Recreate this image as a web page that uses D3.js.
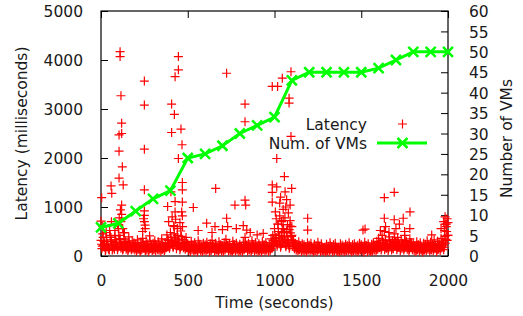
<!DOCTYPE html>
<html>
<head>
<meta charset="utf-8">
<script src="https://cdn.jsdelivr.net/npm/d3@7"></script>
<style>
  html, body { margin: 0; padding: 0; background: #fff; }
  svg { display: block; }
  text { font-family: "DejaVu Sans", sans-serif; fill: #1a1a1a; }
</style>
</head>
<body>
<div id="chart"></div>
<script>
// ---- tick labels ----
const timeTicks = [0, 500, 1000, 1500, 2000];
const latencyTicks = [0, 1000, 2000, 3000, 4000, 5000];
const vmTicks = [0, 5, 10, 15, 20, 25, 30, 35, 40, 45, 50, 55, 60];

// ---- number of VMs, sampled every 100 s ----
const vmTimes = [0, 100, 200, 300, 400, 500, 600, 700, 800, 900, 1000,
  1100, 1200, 1300, 1400, 1500, 1600, 1700, 1800, 1900, 2000];
const vmCounts = [7, 8, 11, 14, 16, 24, 25, 27, 30, 32, 34,
  43, 45, 45, 45, 45, 46, 48, 50, 50, 50];

// ---- latency baseline band (ms), readings every 10 s; A from t=0, B t=5, C t=2.5, D t=7.5 ----
const bandStep = 10;
const bandLatencyA = [
  320, 450, 260, 380, 210, 520, 300, 240, 410, 280,
  560, 350, 230, 470, 300, 260, 390, 220, 310, 270,
  240, 330, 190, 280, 360, 220, 300, 250, 410, 200,
  260, 310, 210, 290, 240, 350, 200, 270, 430, 320,
  480, 290, 600, 350, 420, 260, 510, 330, 280, 380,
  250, 200, 300, 220, 270, 180, 310, 240, 200, 260,
  230, 280, 190, 250, 320, 210, 260, 180, 290, 230,
  200, 270, 340, 220, 250, 180, 300, 230, 260, 200,
  240, 190, 280, 380, 220, 260, 200, 310, 230, 270,
  210, 250, 190, 290, 230, 270, 200, 240, 350, 420,
  560, 380, 650, 300, 470, 720, 340, 500, 280, 610,
  420, 310, 260, 220, 290, 200, 250, 230, 190, 270,
  220, 260, 120, 240, 210, 280, 200, 250, 110, 180,
  240, 200, 270, 190, 230, 260, 100, 180, 250, 220,
  200, 240, 210, 270, 120, 230, 250, 200, 220, 260,
  230, 190, 280, 210, 250, 110, 240, 270, 220, 300,
  360, 250, 420, 280, 330, 240, 390, 260, 310, 450,
  280, 380, 240, 330, 260, 420, 300, 230, 350, 270,
  250, 210, 290, 230, 270, 120, 260, 240, 310, 220,
  280, 240, 330, 210, 300, 250, 360, 290, 520, 650,
  420
];
const bandLatencyB = [
  150, 220, 110, 260, 140, 330, 120, 180, 240, 130,
  280, 160, 120, 200, 140, 110, 170, 130, 150, 120,
  100, 140, 90, 130, 160, 110, 120, 90, 150, 110,
  130, 100, 150, 120, 90, 140, 110, 170, 220, 160,
  260, 180, 300, 150, 240, 130, 200, 170, 140, 190,
  110, 90, 130, 100, 120, 80, 140, 100, 90, 120,
  100, 130, 80, 110, 150, 90, 120, 80, 130, 100,
  90, 120, 160, 100, 110, 80, 130, 100, 120, 90,
  110, 80, 130, 170, 100, 120, 90, 140, 100, 120,
  90, 110, 80, 130, 100, 120, 90, 110, 160, 200,
  300, 200, 350, 180, 260, 400, 190, 280, 160, 330,
  200, 150, 120, 100, 130, 90, 110, 100, 80, 120,
  100, 120, 80, 110, 90, 130, 90, 110, 100, 80,
  110, 90, 120, 80, 100, 120, 90, 80, 110, 100,
  90, 110, 100, 120, 80, 100, 110, 90, 100, 120,
  100, 80, 130, 90, 110, 90, 100, 120, 100, 140,
  170, 120, 210, 130, 160, 110, 190, 120, 150, 220,
  130, 180, 110, 160, 120, 200, 140, 100, 170, 130,
  110, 90, 130, 100, 120, 80, 120, 110, 140, 100,
  130, 110, 150, 90, 140, 110, 170, 130, 260, 320
];
const bandLatencyC = [
  240, 380, 180, 300, 160, 420, 220, 200, 330, 190,
  420, 250, 180, 350, 220, 190, 280, 170, 230, 200,
  180, 250, 150, 210, 270, 160, 230, 190, 300, 160,
  200, 240, 170, 220, 180, 260, 160, 210, 330, 240,
  380, 220, 450, 260, 330, 200, 400, 250, 210, 290,
  190, 150, 230, 170, 210, 140, 240, 180, 160, 200,
  180, 210, 150, 190, 240, 160, 200, 140, 220, 180,
  160, 200, 260, 170, 190, 140, 230, 180, 200, 160,
  180, 150, 220, 280, 170, 200, 160, 240, 180, 210,
  160, 190, 150, 220, 180, 210, 160, 190, 270, 320,
  430, 290, 500, 240, 370, 560, 260, 390, 220, 470,
  320, 240, 200, 170, 220, 160, 190, 180, 150, 210,
  170, 200, 150, 180, 160, 210, 150, 190, 170, 140,
  180, 160, 210, 150, 170, 200, 150, 140, 190, 170,
  160, 180, 170, 210, 150, 170, 190, 160, 170, 200,
  180, 150, 210, 160, 190, 150, 180, 210, 170, 230,
  270, 190, 320, 210, 250, 180, 300, 200, 240, 340,
  210, 290, 180, 250, 200, 320, 230, 170, 270, 210,
  190, 160, 220, 180, 210, 150, 200, 180, 240, 170,
  210, 180, 250, 160, 230, 190, 270, 220, 400, 500
];
const bandLatencyD = [
  200, 300, 140, 220, 120, 380, 160, 140, 280, 170,
  340, 200, 150, 260, 170, 140, 220, 150, 190, 160,
  140, 190, 120, 170, 210, 130, 180, 140, 240, 130,
  160, 190, 130, 180, 140, 200, 130, 180, 260, 200,
  320, 190, 380, 210, 280, 170, 340, 200, 170, 240,
  150, 120, 180, 130, 160, 110, 190, 140, 120, 160,
  140, 170, 110, 150, 190, 130, 160, 110, 170, 140,
  130, 160, 210, 140, 150, 110, 180, 140, 160, 130,
  150, 120, 170, 220, 140, 160, 130, 190, 140, 170,
  130, 150, 120, 180, 140, 170, 130, 150, 220, 260,
  370, 240, 420, 210, 310, 480, 220, 330, 190, 400,
  270, 200, 160, 140, 180, 130, 150, 140, 120, 170,
  140, 160, 110, 150, 130, 170, 120, 150, 140, 110,
  150, 130, 170, 120, 140, 160, 120, 110, 150, 140,
  130, 150, 140, 170, 120, 140, 150, 130, 140, 160,
  150, 120, 170, 130, 150, 120, 140, 170, 140, 190,
  220, 160, 270, 170, 210, 150, 250, 160, 200, 280,
  170, 240, 150, 210, 160, 270, 190, 140, 220, 170,
  150, 130, 180, 140, 170, 120, 160, 150, 200, 140,
  170, 150, 210, 130, 190, 160, 230, 180, 340, 420
];

// ---- latency spikes above the band: [time s, latency ms] ----
const spikeTimes = [
  110, 110, 446, 250, 446, 427, 115, 250, 407, 423, 119, 104, 119, 461, 407,
  250, 104, 123, 446, 467, 104, 58, 128, 62, 4, 250, 403, 469, 469, 384,
  427, 119, 112, 250, 250, 254, 427, 0, 119, 469, 469,
  724, 830, 830, 987, 661, 830, 834, 772, 532, 609, 657, 724, 730, 840, 935,
  987, 987, 987,
  1095, 1045, 1018, 1084, 1084, 1095, 1013, 1057, 1013, 1099, 1090, 1061, 1030,
  1191, 1191, 1510,
  1633, 1690, 1633, 1690, 1742, 1781, 1522, 1633, 1906, 1983, 1983,
  10, 30, 60, 80, 95, 105, 115, 125, 135, 245, 250, 255, 240,
  390, 410, 420, 430, 440, 455, 465, 470,
  560, 640, 700, 780, 820, 860, 900,
  1005, 1010, 1020, 1030, 1040, 1050, 1060, 1070, 1075, 1080, 1090, 1100,
  1035, 1065, 1045, 1085,
  1610, 1640, 1660, 1700, 1720, 1750, 1780,
  1960, 1975, 1990, 1995, 2000
];
const spikeLatency = [
  4170, 4070, 4070, 3570, 3800, 3660, 3270, 3080, 3100, 2890, 2710, 2470, 2500, 2590, 2520,
  2180, 2140, 1820, 1990, 2270, 1590, 1430, 1450, 1280, 1190, 1350, 1310, 1350, 1500, 1010,
  1110, 1040, 940, 920, 830, 630, 900, 710, 850, 1100, 820,
  3730, 3100, 2740, 3460, 1380, 1140, 1040, 1040, 990, 670, 600, 770, 600, 530, 460,
  1450, 1300, 1100,
  3760, 3630, 3460, 3220, 3120, 2440, 1990, 1620, 1410, 1380, 1040, 1310, 1080,
  770, 530, 530,
  1190, 1300, 770, 740, 770, 900, 550, 500, 430, 800, 650,
  600, 480, 700, 520, 640, 780, 700, 560, 480, 760, 700, 560, 500,
  700, 800, 620, 750, 560, 680, 900, 600,
  520, 480, 540, 560, 620, 480, 430,
  900, 760, 650, 820, 700, 950, 780, 1150, 640, 880, 720, 600,
  1200, 1000, 560, 540,
  520, 600, 480, 560, 650, 500, 560,
  560, 700, 600, 760, 680
];

// ---- legend ----
const seriesNames = ['Latency', 'Num. of VMs'];

const W = 523, H = 316;
const margin = { top: 11, right: 75, bottom: 60, left: 101 };
const innerW = 448 - margin.left;
const innerH = 256 - margin.top;
const COLORS = { red: '#ff0000', green: '#00ff00', axis: '#000000' };
const tickLen = 7;

const svg = d3.select('#chart').append('svg')
  .attr('width', W).attr('height', H)
  .style('background', '#fff');

const g = svg.append('g').attr('transform', `translate(${margin.left},${margin.top})`);

const x = d3.scaleLinear().domain([0, 2000]).range([0, innerW]);
const y = d3.scaleLinear().domain([0, 5000]).range([innerH, 0]);
const y2 = d3.scaleLinear().domain([0, 60]).range([innerH, 0]);

// ---- axes, gnuplot style: inward ticks, mirrored x ----
const fs = '15.5px';
const fmt = d3.format('d');
const xAxis = g.append('g').attr('transform', `translate(0,${innerH})`)
  .call(d3.axisBottom(x).tickValues(timeTicks).tickFormat(fmt).tickSizeInner(-tickLen).tickSizeOuter(0).tickPadding(tickLen + 12));
const xTop = g.append('g')
  .call(d3.axisTop(x).tickValues(timeTicks).tickSizeInner(-tickLen).tickSizeOuter(0).tickFormat(''));
const yAxis = g.append('g')
  .call(d3.axisLeft(y).tickValues(latencyTicks).tickFormat(fmt).tickSizeInner(-tickLen).tickSizeOuter(0).tickPadding(tickLen + 11));
const y2Axis = g.append('g').attr('transform', `translate(${innerW},0)`)
  .call(d3.axisRight(y2).tickValues(vmTicks).tickFormat(fmt).tickSizeInner(-tickLen).tickSizeOuter(0).tickPadding(tickLen + 14));

[xAxis, xTop, yAxis, y2Axis].forEach(a => {
  a.select('.domain').remove();
  a.selectAll('line').attr('stroke', COLORS.axis).attr('stroke-width', 1);
  a.selectAll('text').attr('font-size', fs).attr('font-family', '"DejaVu Sans", sans-serif').attr('fill', '#1a1a1a');
});
yAxis.selectAll('text').attr('dy', '0.36em');
y2Axis.selectAll('text').attr('dy', '0.36em');

g.append('rect').attr('width', innerW).attr('height', innerH)
  .attr('fill', 'none').attr('stroke', COLORS.axis).attr('stroke-width', 1.2);

// ---- axis titles ----
svg.append('text').attr('x', margin.left + innerW / 2).attr('y', 308)
  .attr('text-anchor', 'middle').attr('font-size', fs).text('Time (seconds)');
svg.append('text').attr('transform', `translate(27,${margin.top + innerH / 2}) rotate(-90)`)
  .attr('text-anchor', 'middle').attr('font-size', fs).text('Latency (milliseconds)');
svg.append('text').attr('transform', `translate(512,${margin.top + innerH / 2 + 5}) rotate(-90)`)
  .attr('text-anchor', 'middle').attr('font-size', fs).text('Number of VMs');

// ---- marker shapes ----
const plusPath = (s) => `M${-s},0H${s}M0,${-s}V${s}`;
const crossPath = (s) => `M${-s},${-s}L${s},${s}M${-s},${s}L${s},${-s}`;

// ---- latency points ----
const bandPoints = (arr, offset) => arr.map((v, i) => ({ t: i * bandStep + offset, v }));
const latencyPoints = bandPoints(bandLatencyA, 0)
  .concat(bandPoints(bandLatencyB, 5))
  .concat(bandPoints(bandLatencyC, 2.5))
  .concat(bandPoints(bandLatencyD, 7.5))
  .concat(spikeTimes.map((t, i) => ({ t, v: spikeLatency[i] })));

g.append('g').selectAll('path').data(latencyPoints).join('path')
  .attr('transform', d => `translate(${x(d.t)},${y(d.v)})`)
  .attr('d', plusPath(4.5))
  .attr('stroke', COLORS.red).attr('stroke-width', 1.2).attr('fill', 'none');

// ---- VMs line ----
const vmData = vmTimes.map((t, i) => ({ t, v: vmCounts[i] }));
g.append('path').datum(vmData)
  .attr('d', d3.line().x(d => x(d.t)).y(d => y2(d.v)))
  .attr('fill', 'none').attr('stroke', COLORS.green).attr('stroke-width', 3);
g.append('g').selectAll('path').data(vmData).join('path')
  .attr('transform', d => `translate(${x(d.t)},${y2(d.v)})`)
  .attr('d', crossPath(5))
  .attr('stroke', COLORS.green).attr('stroke-width', 2.5).attr('fill', 'none');

// ---- legend ----
const legend = svg.append('g');
legend.append('text').attr('x', 367).attr('y', 129.5).attr('text-anchor', 'end')
  .attr('font-size', fs).text(seriesNames[0]);
legend.append('text').attr('x', 367).attr('y', 148.5).attr('text-anchor', 'end')
  .attr('font-size', fs).text(seriesNames[1]);
legend.append('path').attr('transform', 'translate(402.5,124)').attr('d', plusPath(4.5))
  .attr('stroke', COLORS.red).attr('stroke-width', 1.2);
legend.append('line').attr('x1', 377).attr('x2', 427).attr('y1', 143).attr('y2', 143)
  .attr('stroke', COLORS.green).attr('stroke-width', 3);
legend.append('path').attr('transform', 'translate(402.5,143)').attr('d', crossPath(5))
  .attr('stroke', COLORS.green).attr('stroke-width', 2.5);
</script>
</body>
</html>
